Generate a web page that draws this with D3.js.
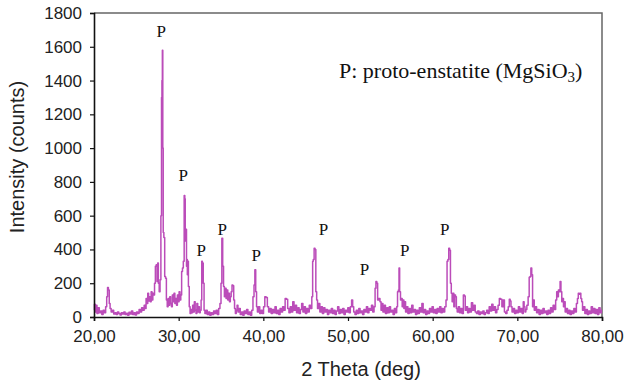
<!DOCTYPE html>
<html>
<head>
<meta charset="utf-8">
<script src="https://cdn.jsdelivr.net/npm/d3@7"></script>
<style>
	html, body { margin: 0; padding: 0; background: #fff; }
	#app { width: 628px; height: 383px; }
</style>
</head>
<body>
<div id="app"></div>
<script>
// 2-theta / intensity pairs
const scan = [
	[20.00, 40], [20.10, 75], [20.20, 30], [20.30, 70], [20.40, 20], [20.55, 55], [20.70, 25], [20.85, 35],
	[21.00, 15], [21.15, 40], [21.30, 25], [21.45, 60], [21.55, 120], [21.65, 175], [21.75, 160], [21.85, 80],
	[21.95, 50], [22.10, 30], [22.25, 40], [22.40, 18], [22.55, 25], [22.70, 15], [22.85, 30], [23.00, 20],
	[23.15, 12], [23.30, 25], [23.45, 18], [23.60, 30], [23.75, 15], [23.90, 22], [24.05, 10], [24.20, 28],
	[24.35, 18], [24.50, 35], [24.65, 15], [24.80, 25], [24.95, 12], [25.10, 30], [25.25, 20], [25.40, 45],
	[25.55, 30], [25.70, 55], [25.85, 40], [26.00, 70], [26.10, 50], [26.20, 110], [26.30, 80], [26.40, 140],
	[26.50, 95], [26.60, 120], [26.70, 90], [26.80, 150], [26.90, 100], [27.00, 140], [27.10, 130], [27.20, 200],
	[27.30, 300], [27.40, 310], [27.50, 210], [27.55, 320], [27.65, 200], [27.75, 150], [27.85, 220], [27.95, 600],
	[28.00, 1300], [28.05, 1400], [28.10, 1580], [28.15, 1000], [28.20, 500], [28.30, 470], [28.40, 240], [28.50, 230],
	[28.60, 100], [28.70, 60], [28.80, 110], [28.90, 70], [29.00, 120], [29.10, 80], [29.20, 60], [29.30, 130],
	[29.40, 90], [29.50, 140], [29.60, 80], [29.70, 110], [29.80, 70], [29.90, 130], [30.00, 90], [30.10, 150],
	[30.20, 100], [30.30, 130], [30.40, 270], [30.50, 290], [30.60, 330], [30.70, 720], [30.75, 700], [30.80, 450],
	[30.90, 520], [30.95, 300], [31.00, 340], [31.05, 250], [31.10, 330], [31.20, 180], [31.30, 60], [31.40, 20],
	[31.50, 45], [31.60, 25], [31.70, 70], [31.80, 30], [31.90, 90], [32.00, 40], [32.10, 20], [32.20, 80],
	[32.30, 30], [32.40, 60], [32.50, 25], [32.60, 40], [32.70, 100], [32.75, 330], [32.85, 320], [32.95, 200],
	[33.05, 40], [33.15, 20], [33.30, 40], [33.45, 15], [33.60, 30], [33.75, 10], [33.90, 25], [34.05, 15],
	[34.20, 35], [34.35, 20], [34.50, 40], [34.65, 15], [34.80, 50], [34.95, 80], [35.05, 200], [35.15, 466],
	[35.25, 300], [35.35, 180], [35.45, 120], [35.55, 170], [35.65, 110], [35.75, 160], [35.85, 100], [35.95, 140],
	[36.05, 90], [36.15, 120], [36.25, 150], [36.35, 190], [36.45, 185], [36.55, 100], [36.65, 50], [36.75, 20],
	[36.85, 40], [36.95, 70], [37.05, 30], [37.20, 50], [37.35, 15], [37.50, 30], [37.65, 10], [37.80, 35],
	[37.95, 20], [38.10, 45], [38.25, 15], [38.40, 30], [38.55, 10], [38.70, 40], [38.85, 120], [38.95, 190],
	[39.05, 280], [39.15, 150], [39.25, 60], [39.35, 30], [39.50, 60], [39.65, 20], [39.80, 40], [39.95, 20],
	[40.10, 60], [40.25, 120], [40.40, 115], [40.55, 60], [40.70, 30], [40.85, 50], [41.00, 20], [41.15, 45],
	[41.30, 25], [41.45, 60], [41.60, 20], [41.75, 40], [41.90, 15], [42.05, 50], [42.20, 30], [42.35, 60],
	[42.50, 40], [42.65, 110], [42.80, 105], [42.95, 50], [43.10, 25], [43.25, 60], [43.40, 30], [43.55, 90],
	[43.70, 40], [43.85, 70], [44.00, 25], [44.15, 55], [44.30, 20], [44.45, 45], [44.60, 80], [44.75, 30],
	[44.90, 60], [45.05, 20], [45.20, 50], [45.35, 30], [45.50, 70], [45.65, 50], [45.80, 120], [45.85, 330],
	[45.95, 340], [46.05, 407], [46.15, 400], [46.25, 150], [46.35, 100], [46.45, 50], [46.60, 80], [46.75, 30],
	[46.90, 60], [47.05, 20], [47.20, 55], [47.35, 30], [47.50, 45], [47.65, 15], [47.80, 40], [47.95, 25],
	[48.10, 50], [48.25, 20], [48.40, 40], [48.55, 15], [48.70, 35], [48.85, 60], [49.00, 20], [49.15, 45],
	[49.30, 25], [49.45, 50], [49.60, 15], [49.75, 40], [49.90, 30], [50.05, 55], [50.20, 25], [50.35, 60],
	[50.50, 100], [50.60, 60], [50.75, 30], [50.90, 15], [51.05, 40], [51.20, 20], [51.35, 50], [51.50, 25],
	[51.65, 35], [51.80, 15], [51.95, 45], [52.10, 30], [52.25, 60], [52.40, 25], [52.55, 50], [52.70, 40],
	[52.85, 70], [53.00, 30], [53.15, 60], [53.25, 170], [53.35, 210], [53.45, 200], [53.55, 100], [53.70, 110],
	[53.85, 90], [53.95, 40], [54.05, 80], [54.20, 30], [54.35, 70], [54.50, 20], [54.65, 55], [54.80, 25],
	[54.95, 60], [55.10, 30], [55.25, 40], [55.40, 15], [55.55, 50], [55.70, 25], [55.80, 60], [55.90, 150],
	[56.00, 160], [56.05, 290], [56.15, 150], [56.25, 100], [56.35, 110], [56.45, 60], [56.55, 100], [56.65, 50],
	[56.75, 90], [56.85, 30], [57.00, 60], [57.15, 20], [57.30, 50], [57.45, 25], [57.60, 70], [57.75, 30],
	[57.90, 45], [58.05, 15], [58.20, 40], [58.35, 20], [58.50, 55], [58.65, 30], [58.80, 80], [58.95, 25],
	[59.10, 45], [59.25, 15], [59.40, 35], [59.55, 20], [59.70, 50], [59.85, 30], [60.00, 60], [60.15, 25],
	[60.30, 45], [60.45, 20], [60.60, 50], [60.75, 30], [60.90, 60], [61.05, 25], [61.20, 50], [61.35, 30],
	[61.50, 60], [61.65, 100], [61.75, 330], [61.85, 340], [61.95, 407], [62.05, 395], [62.15, 200], [62.25, 140],
	[62.35, 90], [62.45, 140], [62.55, 60], [62.65, 130], [62.75, 120], [62.85, 50], [62.95, 30], [63.10, 60],
	[63.25, 25], [63.40, 50], [63.55, 20], [63.70, 130], [63.80, 125], [63.90, 40], [64.05, 60], [64.20, 25],
	[64.35, 50], [64.50, 30], [64.65, 85], [64.80, 40], [64.95, 70], [65.10, 30], [65.25, 20], [65.40, 35],
	[65.55, 15], [65.70, 30], [65.85, 20], [66.00, 35], [66.15, 15], [66.30, 25], [66.45, 40], [66.60, 20],
	[66.75, 60], [66.90, 35], [67.05, 75], [67.20, 40], [67.35, 60], [67.50, 25], [67.65, 45], [67.80, 70],
	[67.95, 110], [68.10, 105], [68.25, 60], [68.40, 100], [68.55, 30], [68.70, 20], [68.85, 40], [69.00, 60],
	[69.10, 105], [69.20, 95], [69.30, 60], [69.45, 30], [69.60, 50], [69.75, 20], [69.90, 40], [70.05, 25],
	[70.20, 60], [70.35, 30], [70.50, 50], [70.65, 20], [70.75, 90], [70.85, 60], [70.95, 30], [71.05, 45],
	[71.20, 70], [71.35, 120], [71.45, 235], [71.55, 240], [71.65, 290], [71.75, 250], [71.85, 60], [71.95, 100],
	[72.05, 40], [72.20, 60], [72.35, 25], [72.50, 45], [72.65, 15], [72.80, 40], [72.95, 20], [73.10, 50],
	[73.25, 25], [73.40, 35], [73.55, 15], [73.70, 40], [73.85, 20], [74.00, 55], [74.15, 30], [74.30, 70],
	[74.45, 45], [74.60, 100], [74.70, 150], [74.80, 120], [74.90, 160], [75.00, 150], [75.10, 210], [75.20, 150],
	[75.30, 90], [75.40, 110], [75.50, 60], [75.60, 90], [75.70, 30], [75.85, 50], [76.00, 20], [76.15, 40],
	[76.30, 15], [76.45, 35], [76.60, 20], [76.75, 50], [76.90, 30], [77.05, 80], [77.15, 110], [77.25, 140],
	[77.35, 135], [77.45, 140], [77.55, 110], [77.65, 90], [77.75, 40], [77.90, 60], [78.05, 20], [78.20, 45],
	[78.35, 15], [78.50, 35], [78.65, 20], [78.80, 60], [78.95, 25], [79.10, 50], [79.25, 20], [79.40, 45],
	[79.55, 15], [79.70, 55], [79.85, 25], [80.00, 40]
];

// peak markers: [2 theta, intensity at the label baseline]
const peakLabels = [
	[27.93, 1655], [30.53, 808], [32.66, 364], [35.15, 483], [39.17, 329],
	[47.10, 483], [51.95, 246], [56.69, 364], [61.42, 483]
];

const xTicks = [20, 30, 40, 50, 60, 70, 80];
const xTickLabels = ['20,00', '30,00', '40,00', '50,00', '60,00', '70,00', '80,00'];
const yTicks = [0, 200, 400, 600, 800, 1000, 1200, 1400, 1600, 1800];

const render = () => {
	const width = 628;
	const height = 383;
	const margin = { top: 13, right: 26, bottom: 66, left: 94 };
	const innerW = width - margin.left - margin.right;
	const innerH = height - margin.top - margin.bottom;

	const svg = d3.select('#app').append('svg')
		.attr('width', width)
		.attr('height', height);

	const x = d3.scaleLinear().domain([20, 80]).range([0, innerW]);
	const y = d3.scaleLinear().domain([0, 1800]).range([innerH, 0]);

	const g = svg.append('g')
		.attr('transform', `translate(${margin.left},${margin.top})`);

	// grey frame on top and right
	g.append('path')
		.attr('d', `M0,0H${innerW}V${innerH}`)
		.attr('fill', 'none')
		.attr('stroke', '#666')
		.attr('stroke-width', 1.5);

	const line = d3.line()
		.x((d) => x(d[0]))
		.y((d) => y(d[1]))
		.curve(d3.curveStep);

	g.append('path')
		.datum(scan)
		.attr('d', line)
		.attr('fill', 'none')
		.attr('stroke', '#bb4cb9')
		.attr('stroke-width', 1.5)
		.attr('stroke-linejoin', 'round');

	const xAxis = g.append('g')
		.attr('transform', `translate(0,${innerH})`)
		.call(d3.axisBottom(x)
			.tickValues(xTicks)
			.tickFormat((d, i) => xTickLabels[i])
			.tickSize(4)
			.tickPadding(9));

	const yAxis = g.append('g')
		.call(d3.axisLeft(y)
			.tickValues(yTicks)
			.tickFormat(d3.format('d'))
			.tickSize(4)
			.tickPadding(8));

	[xAxis, yAxis].forEach((ax) => {
		ax.select('.domain').attr('stroke', '#111').attr('stroke-width', 1.6);
		ax.selectAll('.tick line').attr('stroke', '#111').attr('stroke-width', 1.2);
		ax.selectAll('.tick text')
			.attr('fill', '#222')
			.attr('font-family', 'Liberation Sans, Arial, sans-serif')
			.attr('font-size', 17);
	});

	// P labels
	g.selectAll('text.peak')
		.data(peakLabels)
		.join('text')
		.attr('class', 'peak')
		.attr('x', (d) => x(d[0]))
		.attr('y', (d) => y(d[1]))
		.attr('text-anchor', 'middle')
		.attr('font-family', 'Liberation Serif, Times New Roman, serif')
		.attr('font-size', 17)
		.attr('fill', '#111')
		.text('P');

	// legend note
	const note = svg.append('text')
		.attr('x', 339)
		.attr('y', 78)
		.attr('font-family', 'Liberation Serif, Times New Roman, serif')
		.attr('font-size', 22)
		.attr('fill', '#111');
	note.append('tspan').text('P: proto-enstatite (MgSiO');
	note.append('tspan').attr('font-size', 15).attr('dy', 4).text('3');
	note.append('tspan').attr('dy', -4).text(')');

	svg.append('text')
		.attr('x', 361)
		.attr('y', 376)
		.attr('text-anchor', 'middle')
		.attr('font-family', 'Liberation Sans, Arial, sans-serif')
		.attr('font-size', 20)
		.attr('fill', '#222')
		.text('2 Theta (deg)');

	svg.append('text')
		.attr('transform', 'translate(24,157) rotate(-90)')
		.attr('text-anchor', 'middle')
		.attr('font-family', 'Liberation Sans, Arial, sans-serif')
		.attr('font-size', 20)
		.attr('fill', '#222')
		.text('Intensity (counts)');
};

render();
</script>
</body>
</html>
